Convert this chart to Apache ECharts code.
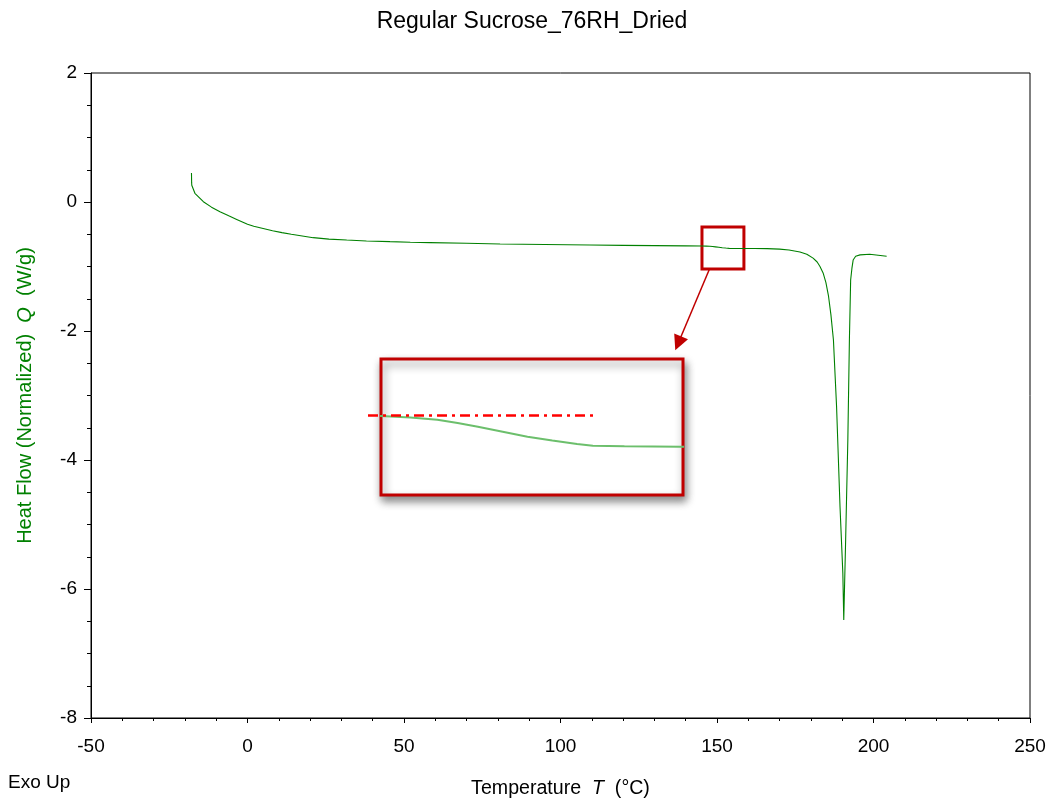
<!DOCTYPE html>
<html>
<head>
<meta charset="utf-8">
<script src="https://cdn.jsdelivr.net/npm/echarts@6/dist/echarts.min.js"></script>
<style>
html,body{margin:0;padding:0;background:#fff;width:1054px;height:798px;overflow:hidden;}
#chart{width:1054px;height:798px;position:absolute;left:0;top:0;}
</style>
</head>
<body>
<div id="chart"></div>
<script>
// ---- Data ----
const temperature = [-17.9, -17.85, -17.8, -16.8, -14.1, -11.5, -8.8, -6, -3.45, 0, 2, 5, 8, 11, 14, 18, 21, 26, 31.7, 38, 45.5, 52, 58.3, 70, 80.7, 95, 109.4, 120, 130, 140, 145.2, 146.5, 147.7, 148.6, 149.5, 150.6, 151.7, 152.8, 153.9, 154.6, 156, 158.5, 162, 166, 170, 173, 176.5, 178.7, 180.7, 182, 182.9, 183.9, 184.8, 185.6, 186.4, 187.2, 188.2, 189.3, 190.2, 190.5, 191.1, 191.8, 192.3, 192.7, 193.1, 193.5, 194.3, 195.7, 198.8, 204.2];
const heatFlow = [0.45, 0.30, 0.26, 0.135, 0.005, -0.08, -0.15, -0.215, -0.27, -0.345, -0.375, -0.41, -0.445, -0.475, -0.50, -0.53, -0.553, -0.575, -0.59, -0.604, -0.615, -0.623, -0.63, -0.64, -0.651, -0.66, -0.667, -0.672, -0.676, -0.68, -0.682, -0.684, -0.687, -0.691, -0.696, -0.7025, -0.709, -0.714, -0.7185, -0.7207, -0.7215, -0.722, -0.722, -0.723, -0.73, -0.745, -0.775, -0.81, -0.87, -0.93, -1.0, -1.10, -1.25, -1.45, -1.75, -2.14, -3.17, -4.72, -5.75, -6.48, -5.24, -3.69, -2.14, -1.21, -1.03, -0.90, -0.84, -0.82, -0.81, -0.84];

// zoom window (small box), inset range, inset reference line and arrow
const zoomBoxT = [145.2, 158.6];
const zoomBoxQ = [-0.388, -1.04];
const insetRangeQ = [-0.785, -0.6077];
const refLineT = [38.5, 111.0];
const refLineQ = [-3.31, -3.31];
const arrowT = [147.5, 137.6];
const arrowQ = [-1.05, -2.19];

const xTicks = {min: -50, max: 250, interval: 50};
const yTicks = {min: -8, max: 2, interval: 2};

const curve = temperature.map((t, i) => [t, heatFlow[i]]);
const refLine = refLineT.map((t, i) => [t, refLineQ[i]]);

const FONT = 'Liberation Sans, Arial, sans-serif';
const chart = echarts.init(document.getElementById('chart'), null, {width: 1054, height: 798});
chart.setOption({
  animation: false,
  backgroundColor: '#fff',
  textStyle: {fontFamily: FONT},
  title: {
    text: 'Regular Sucrose_76RH_Dried',
    left: 527, top: 5, textAlign: 'center',
    textStyle: {fontFamily: FONT, fontSize: 23, fontWeight: 'normal', color: '#000'}
  },
  graphic: [{
    type: 'text', left: 8, top: 773,
    style: {text: 'Exo Up', font: '19px ' + FONT, fill: '#000'}
  }],
  grid: [
    {left: 91, top: 73, width: 939, height: 645, show: true, borderColor: '#000', borderWidth: 1, backgroundColor: '#fff',
     containLabel: false, outerBoundsMode: 'none'},
    {left: 381, top: 359, width: 302, height: 136, show: true, borderColor: '#c00000', borderWidth: 3, backgroundColor: '#fff',
     shadowColor: 'rgba(0,0,0,0.45)', shadowBlur: 8, shadowOffsetX: 2, shadowOffsetY: 5,
     containLabel: false, outerBoundsMode: 'none'}
  ],
  xAxis: [
    {
      type: 'value', gridIndex: 0, min: xTicks.min, max: xTicks.max, interval: xTicks.interval,
      name: '{a|Temperature  }{b|T}{a|  (°C)}', nameLocation: 'middle', nameGap: 61,
      nameTextStyle: {rich: {a: {fontSize: 19.6, fontFamily: FONT, color: '#000'}, b: {fontSize: 19.6, fontFamily: FONT, fontStyle: 'italic', color: '#000'}}},
      axisLine: {show: true, onZero: false, lineStyle: {color: '#000', width: 1}},
      axisTick: {show: true, inside: false, length: 5, lineStyle: {color: '#000'}},
      minorTick: {show: true, splitNumber: 5, length: 3, lineStyle: {color: '#000'}},
      axisLabel: {fontSize: 19, color: '#000', margin: 19, fontFamily: FONT},
      splitLine: {show: false}
    },
    {
      type: 'value', gridIndex: 1, min: zoomBoxT[0], max: zoomBoxT[1], show: false, splitLine: {show: false}
    }
  ],
  yAxis: [
    {
      type: 'value', gridIndex: 0, min: yTicks.min, max: yTicks.max, interval: yTicks.interval,
      name: '{a|Heat Flow (Normalized)  }{b|Q}{a|  (W/g)}', nameLocation: 'middle', nameGap: 56, nameRotate: 90,
      nameTextStyle: {rich: {a: {fontSize: 20, fontFamily: FONT, color: '#008000'}, b: {fontSize: 20, fontFamily: FONT, fontStyle: 'italic', color: '#008000'}}},
      axisLine: {show: true, onZero: false, lineStyle: {color: '#000', width: 1}},
      axisTick: {show: true, inside: false, length: 7, lineStyle: {color: '#000'}},
      minorTick: {show: true, splitNumber: 4, length: 4, lineStyle: {color: '#000'}},
      axisLabel: {fontSize: 19, color: '#000', margin: 14, fontFamily: FONT, padding: [3, 0, 0, 0]},
      splitLine: {show: false}
    },
    {
      type: 'value', gridIndex: 1, min: insetRangeQ[0], max: insetRangeQ[1], show: false, splitLine: {show: false}
    }
  ],
  series: [
    {
      type: 'line', xAxisIndex: 0, yAxisIndex: 0, data: curve, showSymbol: false, symbol: 'none',
      lineStyle: {color: '#008000', width: 1.1}, z: 3,
      markArea: {
        silent: true,
        itemStyle: {color: 'rgba(0,0,0,0)', borderColor: '#c00000', borderWidth: 3},
        data: [[{coord: [zoomBoxT[0], zoomBoxQ[0]]}, {coord: [zoomBoxT[1], zoomBoxQ[1]]}]]
      },
      markLine: {
        silent: true, symbol: ['none', 'triangle'], symbolSize: [15, 15],
        lineStyle: {color: '#c00000', width: 1.5, type: 'solid'},
        label: {show: false},
        data: [[{coord: [arrowT[0], arrowQ[0]]}, {coord: [arrowT[1], arrowQ[1]]}]]
      }
    },
    {
      type: 'line', xAxisIndex: 1, yAxisIndex: 1, data: curve, showSymbol: false, symbol: 'none',
      lineStyle: {color: '#6cbf6c', width: 2}, z: 3
    },
    {
      type: 'line', xAxisIndex: 0, yAxisIndex: 0, data: refLine, showSymbol: false, symbol: 'none',
      lineStyle: {color: '#ff0000', width: 2.5, type: [10, 5, 3, 5]}, z: 4
    }
  ]
});
</script>
</body>
</html>
